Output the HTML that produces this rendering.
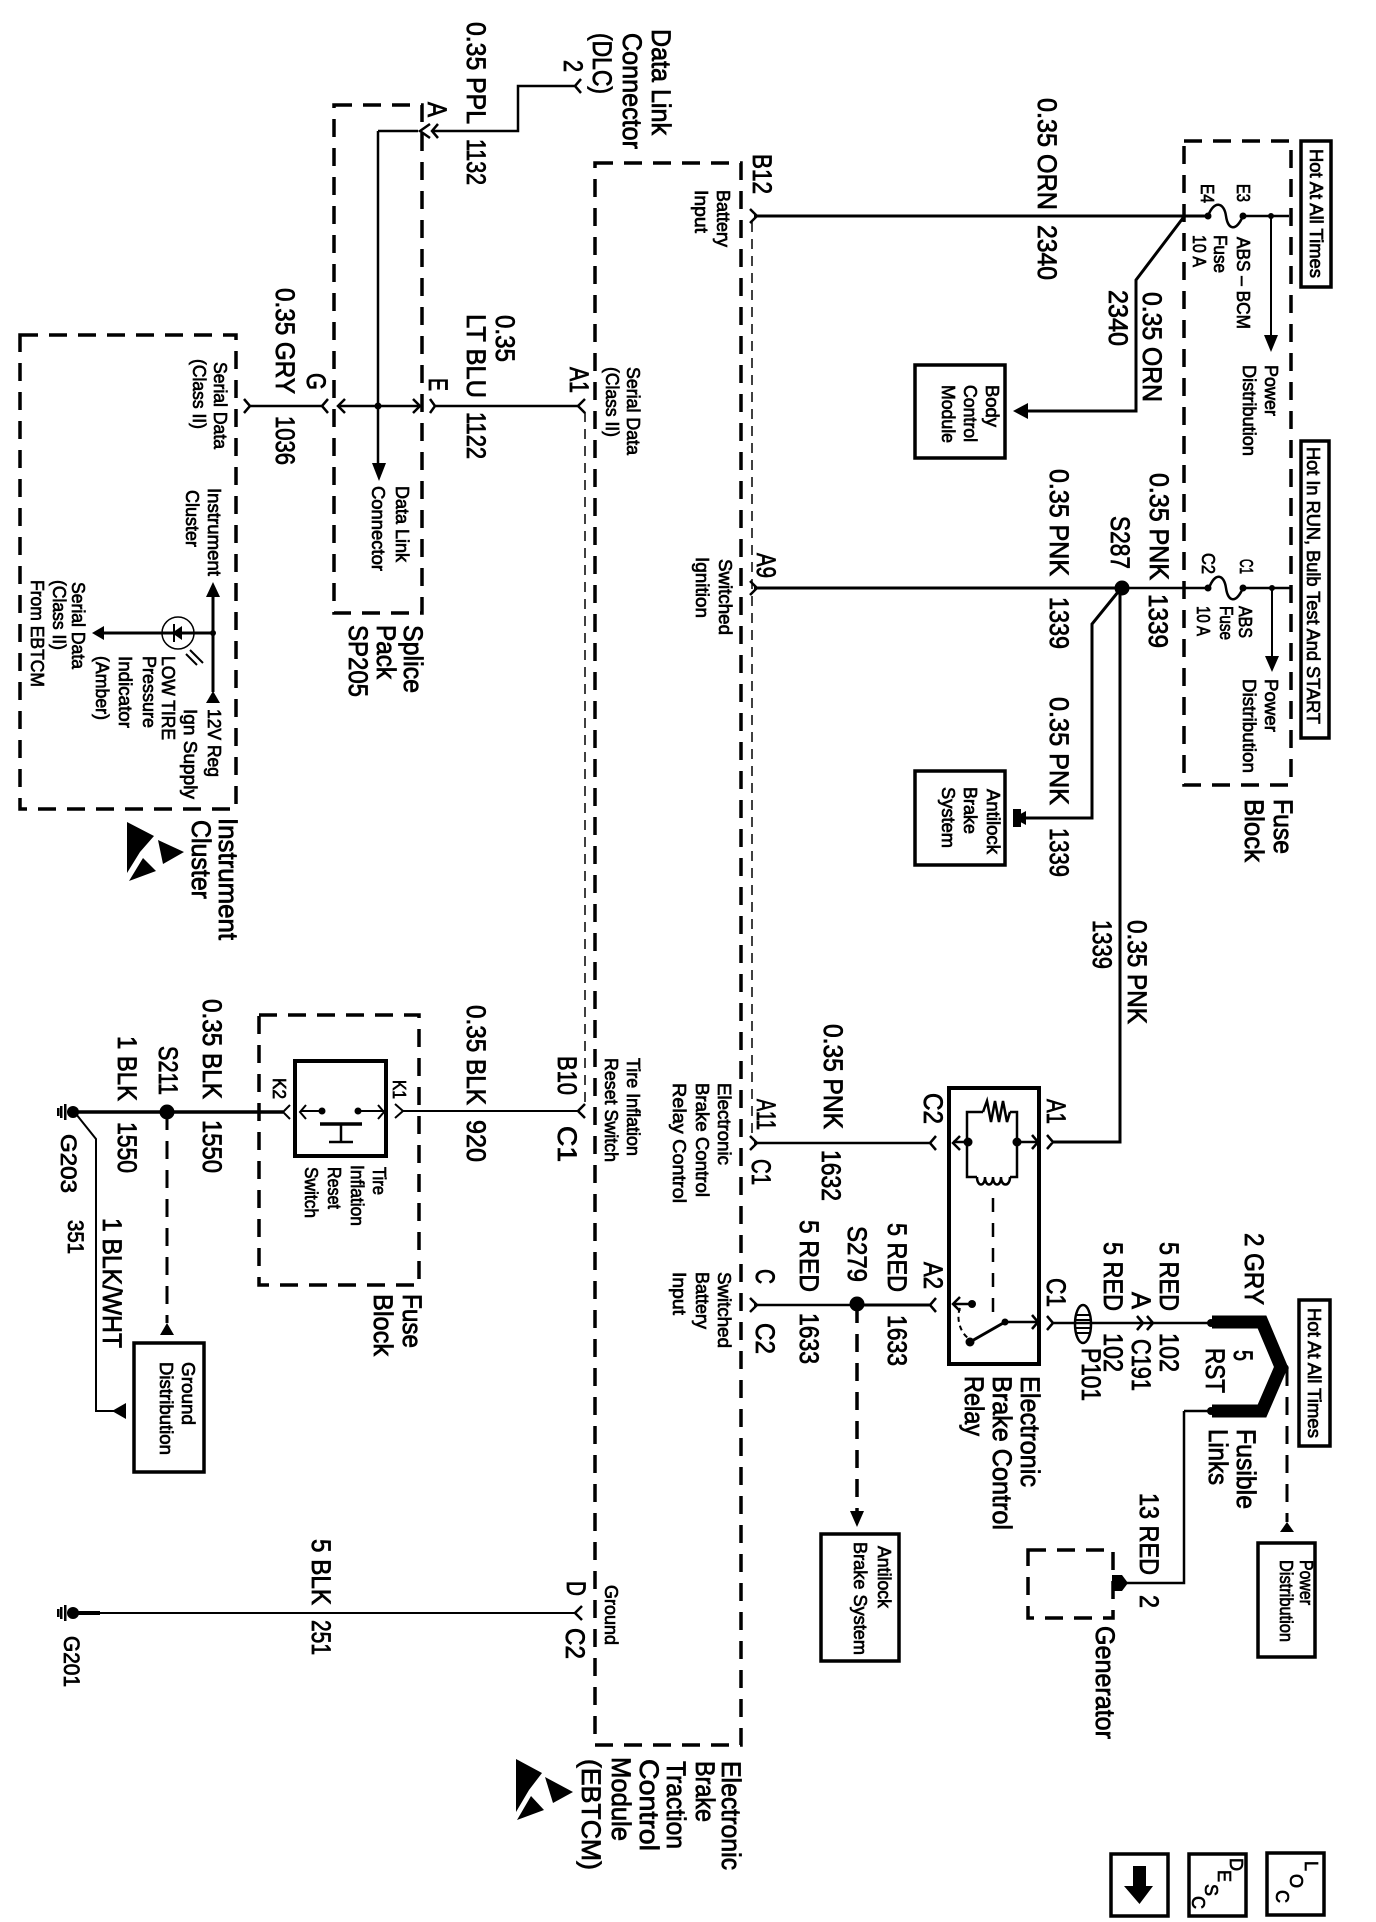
<!DOCTYPE html>
<html><head><meta charset="utf-8"><style>
html,body{margin:0;padding:0;background:#fff}
svg{display:block}
text{font-family:"Liberation Sans",sans-serif;fill:#000}
.b{font-size:27px;stroke:#000;stroke-width:.8px}
.s{font-size:18px;stroke:#000;stroke-width:.7px}
.w{fill:none;stroke:#000;stroke-linejoin:miter}
.d{fill:none;stroke:#000;stroke-width:3.5;stroke-dasharray:18 11}
.t{fill:none;stroke:#000;stroke-width:1.5;stroke-dasharray:10 7}
.bx{fill:none;stroke:#000;stroke-width:3.5}
.k{fill:#000;stroke:none}
</style></head><body>
<svg width="1376" height="1922" viewBox="0 0 1376 1922" xmlns="http://www.w3.org/2000/svg">
<rect width="1376" height="1922" fill="#fff"/>

<!-- dashed containers -->
<rect class="d" x="334" y="105" width="88" height="508"/>
<rect class="d" x="20" y="335" width="216" height="474"/>
<rect class="d" x="595" y="163" width="146" height="1582"/>
<rect class="d" x="1184" y="141" width="107" height="644"/>
<rect class="d" x="259" y="1015" width="160" height="270"/>
<rect class="d" x="1028" y="1550" width="85" height="68"/>
<path class="t" d="M752 222V1138"/>
<path class="t" d="M585 412V1105"/>

<!-- solid boxes -->
<rect class="bx" x="1301" y="141" width="30" height="146"/>
<rect class="bx" x="1301" y="441" width="28" height="297"/>
<rect class="bx" x="1299" y="1300" width="31" height="146"/>
<rect class="bx" x="915" y="365" width="90" height="93"/>
<rect class="bx" x="915" y="771" width="90" height="94"/>
<rect class="bx" x="821" y="1534" width="78" height="127"/>
<rect class="bx" x="1258" y="1543" width="57" height="114"/>
<rect class="bx" x="134" y="1343" width="70" height="129"/>
<rect class="w" style="stroke-width:4" x="949" y="1088" width="90" height="276"/>
<rect class="w" style="stroke-width:4" x="295" y="1061" width="91" height="95"/>
<rect class="bx" x="1267" y="1853" width="57" height="62"/>
<rect class="bx" x="1189" y="1854" width="57" height="62"/>
<rect class="bx" x="1111" y="1854" width="57" height="62"/>
<path class="k" d="M1133 1866H1146V1886H1153L1139.500 1904L1124 1886H1133Z"/>

<!-- wires -->
<g class="w" stroke-width="2.500">
<path d="M575 86H518V131H432"/>
<path d="M378 131V465" stroke-width="2.500"/>
<path d="M378 131H418M340 406H418"/>
<path d="M250 406H322" />
<path d="M435 406H578"/>
<path d="M754 216H1208" stroke-width="3"/>
<path d="M1243 216H1289"/>
<path d="M1208 216C1214 200 1224 202 1226 216S1236 232 1243 216"/>
<path d="M1271 216V338" stroke-width="2"/>
<path d="M1183 218L1136 280V411H1026" stroke-width="3"/>
<path d="M754 588H1122" stroke-width="3"/>
<path d="M1122 588H1209M1243 588H1291"/>
<path d="M1209 588C1215 572 1224 574 1226 588S1236 604 1243 588"/>
<path d="M1272 588V658" stroke-width="2"/>
<path d="M1118 592L1092 624V818H1020" stroke-width="3"/>
<path d="M1120 590V1142H1053" stroke-width="3"/>
<path d="M754 1143H930"/>
<path d="M754 1305H857"/>
<path d="M857 1305H930" stroke-width="3"/>
<path d="M1053 1323H1212"/>
<path d="M1184 1411H1212M1184 1411V1583H1125"/>
<path d="M72 1112H283" stroke-width="3.500"/>
<path d="M76 1114L96 1139V1411H114" stroke-width="2"/>
<path d="M403 1111H578" stroke-width="2"/>
<path d="M72 1613H100" stroke-width="4"/>
<path d="M72 1613H575" stroke-width="2"/>
<path d="M213 597V692M213 633H100" stroke-width="3"/>
<!-- chevrons -->
<path stroke-width="2.500" d="M581 79L575 86L581 93M438 124L432 131L438 138M430 124L420 131L430 138"/>
<path stroke-width="2.500" d="M328 399L322 406L328 413M345 399L338 406L345 413M413 399L420 406L413 413M430 399L435 406L430 413"/>
<path stroke-width="2.500" d="M244 399L250 406L244 413M585 399L578 406L585 413M585 1104L578 1111L585 1118M582 1606L575 1613L582 1620"/>
<path stroke-width="2.500" d="M750 209L757 216L750 223M750 581L757 588L750 595M750 1136L757 1143L750 1150M750 1298L757 1305L750 1312"/>
<path stroke-width="2.500" d="M936 1136L930 1143L936 1150M936 1298L930 1305L936 1312"/>
<path stroke-width="2.500" d="M960 1136L953 1143L960 1150M1032 1135L1038 1142L1032 1149M1047 1135L1053 1142L1047 1149M960 1297L953 1304L960 1311M1032 1315L1038 1322L1032 1329M1047 1316L1053 1323L1047 1330M1137 1316L1143 1323L1137 1330M1147 1316L1153 1323L1147 1330"/>
<path stroke-width="2" d="M395 1104L403 1111L395 1118M290 1105L283 1112L290 1119"/>
<path stroke-width="2" d="M306 1105L300 1112L306 1119M378 1105L384 1112L378 1119M301 1111H322M358 1111H384"/>
<!-- relay internals -->
<path stroke-width="2.500" d="M983 1112H967V1177H977M1010 1177H1017V1112H1010"/>
<path stroke-width="2.500" d="M983 1112L987 1101L991 1122L995 1101L999 1122L1003 1101L1007 1122L1010 1112"/>
<path stroke-width="2.500" d="M977 1177C977 1187 985 1187 985 1177C985 1187 993 1187 993 1177C993 1187 1001 1187 1001 1177C1001 1187 1010 1187 1010 1177"/>
<path stroke-width="2.500" d="M953 1142H968M1017 1142H1038M953 1304H972M1005 1322H1038"/>
<path stroke-width="3" d="M970 1342L1005 1322"/>
<path stroke-width="2.500" stroke-dasharray="14 11" d="M993 1198V1318"/>
<path stroke-width="2" stroke-dasharray="5 4" d="M960 1308C956 1318 960 1332 968 1338"/>
<!-- tire switch internals -->
<path stroke-width="3.500" d="M320 1124H362"/>
<path stroke-width="2.500" d="M341 1124V1142M329 1142H353"/>
<!-- dashed leads -->
<path stroke-width="3.500" stroke-dasharray="18 11" d="M857 1305V1512"/>
<path stroke-width="3" stroke-dasharray="18 11" d="M1287 1368V1522"/>
<path stroke-width="3" stroke-dasharray="18 11" d="M167 1112V1323"/>
<!-- fusible -->
<path stroke-width="13" d="M1212 1322H1262L1281 1367L1262 1411H1212"/>
<!-- P101 -->
<ellipse cx="1083" cy="1324" rx="8" ry="19" stroke-width="2.500"/>
<path stroke-width="2" d="M1076 1315H1091M1076 1320H1091M1076 1328H1091M1076 1333H1091"/>
<circle cx="1285" cy="1368" r="3" stroke-width="1.500"/>
<!-- lamp -->
<circle cx="178" cy="633" r="16" stroke-width="1.500"/>
<path stroke-width="2" d="M174 624V642M190 650L203 663M186 654L197 665"/>
</g>

<!-- arrowheads and dots -->
<g class="k">
<path d="M372 463H386L379 481Z"/>
<path d="M1264 335H1278L1271 352Z"/>
<path d="M1265 656H1279L1272 672Z"/>
<path d="M1013 411L1028 403V419Z"/>
<path d="M1013 809H1021V827H1013Z"/><path d="M1013 818L1026 811V825Z"/>
<path d="M850 1511H864L857 1527Z"/>
<path d="M1287 1522L1294 1532H1280Z"/>
<path d="M167 1323L174 1335H160Z"/>
<path d="M112 1411L126 1403V1419Z"/>
<path d="M213 582L220 597H206Z"/>
<path d="M213 691L220 703H206Z"/>
<path d="M92 633L104 626V640Z"/>
<path d="M172 633L182 626V640Z"/>
<path d="M1112 1575H1122L1128 1583L1122 1591H1112Z"/>
<circle cx="378" cy="406" r="3.500"/>
<circle cx="1122" cy="588" r="7.500"/>
<circle cx="857" cy="1304" r="7.500"/>
<circle cx="167" cy="1112" r="7.500"/>
<circle cx="1208" cy="216" r="3.500"/><circle cx="1243" cy="216" r="3.500"/>
<circle cx="1208" cy="588" r="3.500"/><circle cx="1243" cy="588" r="3.500"/>
<circle cx="1271" cy="216" r="3"/><circle cx="1272" cy="588" r="3"/>
<circle cx="968" cy="1142" r="4.500"/><circle cx="1017" cy="1142" r="4.500"/>
<circle cx="972" cy="1304" r="4"/><circle cx="970" cy="1342" r="4.500"/><circle cx="1005" cy="1322" r="3.500"/>
<circle cx="322" cy="1111" r="3.500"/><circle cx="358" cy="1111" r="3.500"/>
<circle cx="213" cy="633" r="3"/>
<circle cx="1211" cy="1323" r="4"/><circle cx="1211" cy="1411" r="4"/>
<!-- grounds -->
<circle cx="73" cy="1112" r="6"/><circle cx="73" cy="1613" r="6"/>
<rect x="64" y="1104" width="2.500" height="16"/><rect x="60" y="1106" width="2.500" height="12"/><rect x="57" y="1108" width="2.500" height="8"/>
<rect x="64" y="1605" width="2.500" height="16"/><rect x="60" y="1607" width="2.500" height="12"/><rect x="57" y="1609" width="2.500" height="8"/>
<!-- ESD icons -->
<path d="M127 822L154 836L140 852L127 873Z"/><path d="M129 881L143 858L156 871Z"/><path d="M158 840L184 852L163 864Z"/>
<path d="M516 1759L542 1773L529 1790L516 1812Z"/><path d="M517 1820L531 1796L544 1810Z"/><path d="M545 1777L573 1792L553 1803Z"/>
</g>

<!-- big labels -->
<g class="b">
<text transform="translate(652 29) rotate(90)" textLength="106" lengthAdjust="spacingAndGlyphs">Data Link</text>
<text transform="translate(623 33) rotate(90)" textLength="116" lengthAdjust="spacingAndGlyphs">Connector</text>
<text transform="translate(593 33) rotate(90)" textLength="61" lengthAdjust="spacingAndGlyphs">(DLC)</text>
<text transform="translate(564 60) rotate(90)" textLength="12" lengthAdjust="spacingAndGlyphs">2</text>
<text transform="translate(428 102) rotate(90)" textLength="15" lengthAdjust="spacingAndGlyphs">A</text>
<text transform="translate(467 22) rotate(90)" textLength="102" lengthAdjust="spacingAndGlyphs">0.35 PPL</text>
<text transform="translate(467 139) rotate(90)" textLength="46" lengthAdjust="spacingAndGlyphs">1132</text>
<text transform="translate(276 288) rotate(90)" textLength="106" lengthAdjust="spacingAndGlyphs">0.35 GRY</text>
<text transform="translate(276 416) rotate(90)" textLength="49" lengthAdjust="spacingAndGlyphs">1036</text>
<text transform="translate(307 373) rotate(90)" textLength="17" lengthAdjust="spacingAndGlyphs">G</text>
<text transform="translate(429 378) rotate(90)" textLength="13" lengthAdjust="spacingAndGlyphs">E</text>
<text transform="translate(496 315) rotate(90)" textLength="47" lengthAdjust="spacingAndGlyphs">0.35</text>
<text transform="translate(467 314) rotate(90)" textLength="84" lengthAdjust="spacingAndGlyphs">LT BLU</text>
<text transform="translate(467 412) rotate(90)" textLength="47" lengthAdjust="spacingAndGlyphs">1122</text>
<text transform="translate(570 367) rotate(90)" textLength="26" lengthAdjust="spacingAndGlyphs">A1</text>
<text transform="translate(219 818) rotate(90)" textLength="122" lengthAdjust="spacingAndGlyphs">Instrument</text>
<text transform="translate(192 820) rotate(90)" textLength="79" lengthAdjust="spacingAndGlyphs">Cluster</text>
<text transform="translate(404 625) rotate(90)" textLength="68" lengthAdjust="spacingAndGlyphs">Splice</text>
<text transform="translate(377 625) rotate(90)" textLength="54" lengthAdjust="spacingAndGlyphs">Pack</text>
<text transform="translate(349 625) rotate(90)" textLength="72" lengthAdjust="spacingAndGlyphs">SP205</text>
<text transform="translate(203 999) rotate(90)" textLength="100" lengthAdjust="spacingAndGlyphs">0.35 BLK</text>
<text transform="translate(203 1120) rotate(90)" textLength="53" lengthAdjust="spacingAndGlyphs">1550</text>
<text transform="translate(118 1036) rotate(90)" textLength="65" lengthAdjust="spacingAndGlyphs">1 BLK</text>
<text transform="translate(118 1122) rotate(90)" textLength="51" lengthAdjust="spacingAndGlyphs">1550</text>
<text transform="translate(159 1046) rotate(90)" textLength="49" lengthAdjust="spacingAndGlyphs">S211</text>
<text style="font-size:22px" transform="translate(61 1134) rotate(90)" textLength="59" lengthAdjust="spacingAndGlyphs">G203</text>
<text style="font-size:22px" transform="translate(68 1220) rotate(90)" textLength="34" lengthAdjust="spacingAndGlyphs">351</text>
<text transform="translate(103 1218) rotate(90)" textLength="130" lengthAdjust="spacingAndGlyphs">1 BLK/WHT</text>
<text transform="translate(467 1005) rotate(90)" textLength="100" lengthAdjust="spacingAndGlyphs">0.35 BLK</text>
<text transform="translate(467 1120) rotate(90)" textLength="42" lengthAdjust="spacingAndGlyphs">920</text>
<text transform="translate(558 1056) rotate(90)" textLength="39" lengthAdjust="spacingAndGlyphs">B10</text>
<text transform="translate(558 1126) rotate(90)" textLength="36" lengthAdjust="spacingAndGlyphs">C1</text>
<text transform="translate(403 1294) rotate(90)" textLength="54" lengthAdjust="spacingAndGlyphs">Fuse</text>
<text transform="translate(374 1294) rotate(90)" textLength="62" lengthAdjust="spacingAndGlyphs">Block</text>
<text transform="translate(567 1581) rotate(90)" textLength="15" lengthAdjust="spacingAndGlyphs">D</text>
<text transform="translate(566 1628) rotate(90)" textLength="31" lengthAdjust="spacingAndGlyphs">C2</text>
<text transform="translate(312 1539) rotate(90)" textLength="66" lengthAdjust="spacingAndGlyphs">5 BLK</text>
<text transform="translate(312 1620) rotate(90)" textLength="35" lengthAdjust="spacingAndGlyphs">251</text>
<text style="font-size:22px" transform="translate(64 1636) rotate(90)" textLength="51" lengthAdjust="spacingAndGlyphs">G201</text>
<text transform="translate(722 1761) rotate(90)" textLength="109" lengthAdjust="spacingAndGlyphs">Electronic</text>
<text transform="translate(696 1761) rotate(90)" textLength="61" lengthAdjust="spacingAndGlyphs">Brake</text>
<text transform="translate(667 1761) rotate(90)" textLength="88" lengthAdjust="spacingAndGlyphs">Traction</text>
<text transform="translate(640 1759) rotate(90)" textLength="92" lengthAdjust="spacingAndGlyphs">Control</text>
<text transform="translate(612 1757) rotate(90)" textLength="84" lengthAdjust="spacingAndGlyphs">Module</text>
<text transform="translate(582 1759) rotate(90)" textLength="111" lengthAdjust="spacingAndGlyphs">(EBTCM)</text>
<text transform="translate(1038 98) rotate(90)" textLength="112" lengthAdjust="spacingAndGlyphs">0.35 ORN</text>
<text transform="translate(1038 225) rotate(90)" textLength="55" lengthAdjust="spacingAndGlyphs">2340</text>
<text transform="translate(753 154) rotate(90)" textLength="40" lengthAdjust="spacingAndGlyphs">B12</text>
<text transform="translate(1143 292) rotate(90)" textLength="110" lengthAdjust="spacingAndGlyphs">0.35 ORN</text>
<text transform="translate(1109 290) rotate(90)" textLength="56" lengthAdjust="spacingAndGlyphs">2340</text>
<text transform="translate(1050 469) rotate(90)" textLength="107" lengthAdjust="spacingAndGlyphs">0.35 PNK</text>
<text transform="translate(1150 473) rotate(90)" textLength="107" lengthAdjust="spacingAndGlyphs">0.35 PNK</text>
<text transform="translate(1111 516) rotate(90)" textLength="53" lengthAdjust="spacingAndGlyphs">S287</text>
<text transform="translate(1050 597) rotate(90)" textLength="52" lengthAdjust="spacingAndGlyphs">1339</text>
<text transform="translate(1149 594) rotate(90)" textLength="54" lengthAdjust="spacingAndGlyphs">1339</text>
<text transform="translate(757 553) rotate(90)" textLength="25" lengthAdjust="spacingAndGlyphs">A9</text>
<text transform="translate(1274 799) rotate(90)" textLength="55" lengthAdjust="spacingAndGlyphs">Fuse</text>
<text transform="translate(1245 799) rotate(90)" textLength="63" lengthAdjust="spacingAndGlyphs">Block</text>
<text transform="translate(1050 697) rotate(90)" textLength="108" lengthAdjust="spacingAndGlyphs">0.35 PNK</text>
<text transform="translate(1050 828) rotate(90)" textLength="49" lengthAdjust="spacingAndGlyphs">1339</text>
<text transform="translate(1128 920) rotate(90)" textLength="104" lengthAdjust="spacingAndGlyphs">0.35 PNK</text>
<text transform="translate(1093 920) rotate(90)" textLength="49" lengthAdjust="spacingAndGlyphs">1339</text>
<text transform="translate(824 1024) rotate(90)" textLength="105" lengthAdjust="spacingAndGlyphs">0.35 PNK</text>
<text transform="translate(822 1150) rotate(90)" textLength="51" lengthAdjust="spacingAndGlyphs">1632</text>
<text transform="translate(757 1099) rotate(90)" textLength="31" lengthAdjust="spacingAndGlyphs">A11</text>
<text transform="translate(752 1159) rotate(90)" textLength="26" lengthAdjust="spacingAndGlyphs">C1</text>
<text transform="translate(924 1093) rotate(90)" textLength="31" lengthAdjust="spacingAndGlyphs">C2</text>
<text transform="translate(1047 1099) rotate(90)" textLength="25" lengthAdjust="spacingAndGlyphs">A1</text>
<text transform="translate(800 1220) rotate(90)" textLength="72" lengthAdjust="spacingAndGlyphs">5 RED</text>
<text transform="translate(848 1226) rotate(90)" textLength="56" lengthAdjust="spacingAndGlyphs">S279</text>
<text transform="translate(888 1223) rotate(90)" textLength="69" lengthAdjust="spacingAndGlyphs">5 RED</text>
<text transform="translate(924 1262) rotate(90)" textLength="27" lengthAdjust="spacingAndGlyphs">A2</text>
<text transform="translate(1104 1242) rotate(90)" textLength="69" lengthAdjust="spacingAndGlyphs">5 RED</text>
<text transform="translate(1160 1242) rotate(90)" textLength="69" lengthAdjust="spacingAndGlyphs">5 RED</text>
<text transform="translate(1132 1292) rotate(90)" textLength="17" lengthAdjust="spacingAndGlyphs">A</text>
<text transform="translate(1245 1233) rotate(90)" textLength="72" lengthAdjust="spacingAndGlyphs">2 GRY</text>
<text transform="translate(756 1323) rotate(90)" textLength="31" lengthAdjust="spacingAndGlyphs">C2</text>
<text transform="translate(756 1269) rotate(90)" textLength="15" lengthAdjust="spacingAndGlyphs">C</text>
<text transform="translate(800 1313) rotate(90)" textLength="51" lengthAdjust="spacingAndGlyphs">1633</text>
<text transform="translate(888 1315) rotate(90)" textLength="51" lengthAdjust="spacingAndGlyphs">1633</text>
<text transform="translate(1047 1278) rotate(90)" textLength="29" lengthAdjust="spacingAndGlyphs">C1</text>
<text transform="translate(1082 1348) rotate(90)" textLength="53" lengthAdjust="spacingAndGlyphs">P101</text>
<text transform="translate(1104 1333) rotate(90)" textLength="39" lengthAdjust="spacingAndGlyphs">102</text>
<text transform="translate(1160 1333) rotate(90)" textLength="39" lengthAdjust="spacingAndGlyphs">102</text>
<text transform="translate(1132 1339) rotate(90)" textLength="52" lengthAdjust="spacingAndGlyphs">C191</text>
<text transform="translate(1206 1348) rotate(90)" textLength="45" lengthAdjust="spacingAndGlyphs">RST</text>
<text transform="translate(1234 1350) rotate(90)" textLength="11" lengthAdjust="spacingAndGlyphs">5</text>
<text transform="translate(1237 1429) rotate(90)" textLength="80" lengthAdjust="spacingAndGlyphs">Fusible</text>
<text transform="translate(1209 1429) rotate(90)" textLength="56" lengthAdjust="spacingAndGlyphs">Links</text>
<text transform="translate(1140 1493) rotate(90)" textLength="82" lengthAdjust="spacingAndGlyphs">13 RED</text>
<text transform="translate(1140 1595) rotate(90)" textLength="13" lengthAdjust="spacingAndGlyphs">2</text>
<text transform="translate(1096 1626) rotate(90)" textLength="113" lengthAdjust="spacingAndGlyphs">Generator</text>
<text transform="translate(1021 1376) rotate(90)" textLength="111" lengthAdjust="spacingAndGlyphs">Electronic</text>
<text transform="translate(993 1376) rotate(90)" textLength="154" lengthAdjust="spacingAndGlyphs">Brake Control</text>
<text transform="translate(965 1376) rotate(90)" textLength="60" lengthAdjust="spacingAndGlyphs">Relay</text>
</g>

<!-- small labels -->
<g class="s">
<text transform="translate(627 367) rotate(90)" textLength="88" lengthAdjust="spacingAndGlyphs">Serial Data</text>
<text transform="translate(606 367) rotate(90)" textLength="70" lengthAdjust="spacingAndGlyphs">(Class II)</text>
<text transform="translate(214 362) rotate(90)" textLength="87" lengthAdjust="spacingAndGlyphs">Serial Data</text>
<text transform="translate(193 359) rotate(90)" textLength="70" lengthAdjust="spacingAndGlyphs">(Class II)</text>
<text transform="translate(396 486) rotate(90)" textLength="76" lengthAdjust="spacingAndGlyphs">Data Link</text>
<text transform="translate(372 486) rotate(90)" textLength="85" lengthAdjust="spacingAndGlyphs">Connector</text>
<text transform="translate(208 488) rotate(90)" textLength="88" lengthAdjust="spacingAndGlyphs">Instrument</text>
<text transform="translate(186 490) rotate(90)" textLength="57" lengthAdjust="spacingAndGlyphs">Cluster</text>
<text transform="translate(72 582) rotate(90)" textLength="87" lengthAdjust="spacingAndGlyphs">Serial Data</text>
<text transform="translate(53 580) rotate(90)" textLength="70" lengthAdjust="spacingAndGlyphs">(Class II)</text>
<text transform="translate(31 580) rotate(90)" textLength="107" lengthAdjust="spacingAndGlyphs">From EBTCM</text>
<text transform="translate(162 656) rotate(90)" textLength="84" lengthAdjust="spacingAndGlyphs">LOW TIRE</text>
<text transform="translate(143 656) rotate(90)" textLength="72" lengthAdjust="spacingAndGlyphs">Pressure</text>
<text transform="translate(119 656) rotate(90)" textLength="72" lengthAdjust="spacingAndGlyphs">Indicator</text>
<text transform="translate(96 656) rotate(90)" textLength="64" lengthAdjust="spacingAndGlyphs">(Amber)</text>
<text transform="translate(208 709) rotate(90)" textLength="68" lengthAdjust="spacingAndGlyphs">12V Reg</text>
<text transform="translate(184 709) rotate(90)" textLength="90" lengthAdjust="spacingAndGlyphs">Ign Supply</text>
<text transform="translate(627 1058) rotate(90)" textLength="98" lengthAdjust="spacingAndGlyphs">Tire Inflation</text>
<text transform="translate(605 1058) rotate(90)" textLength="104" lengthAdjust="spacingAndGlyphs">Reset Switch</text>
<text transform="translate(373 1167) rotate(90)" textLength="28" lengthAdjust="spacingAndGlyphs">Tire</text>
<text transform="translate(351 1165) rotate(90)" textLength="61" lengthAdjust="spacingAndGlyphs">Inflation</text>
<text transform="translate(328 1167) rotate(90)" textLength="42" lengthAdjust="spacingAndGlyphs">Reset</text>
<text transform="translate(305 1167) rotate(90)" textLength="51" lengthAdjust="spacingAndGlyphs">Switch</text>
<text transform="translate(393 1080) rotate(90)" textLength="19" lengthAdjust="spacingAndGlyphs">K1</text>
<text transform="translate(273 1078) rotate(90)" textLength="21" lengthAdjust="spacingAndGlyphs">K2</text>
<text transform="translate(182 1362) rotate(90)" textLength="63" lengthAdjust="spacingAndGlyphs">Ground</text>
<text transform="translate(160 1362) rotate(90)" textLength="93" lengthAdjust="spacingAndGlyphs">Distribution</text>
<text transform="translate(605 1585) rotate(90)" textLength="60" lengthAdjust="spacingAndGlyphs">Ground</text>
<text transform="translate(717 190) rotate(90)" textLength="57" lengthAdjust="spacingAndGlyphs">Battery</text>
<text transform="translate(695 190) rotate(90)" textLength="43" lengthAdjust="spacingAndGlyphs">Input</text>
<text transform="translate(1310 149) rotate(90)" textLength="129" lengthAdjust="spacingAndGlyphs">Hot At All Times</text>
<text transform="translate(1237 184) rotate(90)" textLength="18" lengthAdjust="spacingAndGlyphs">E3</text>
<text transform="translate(1201 184) rotate(90)" textLength="19" lengthAdjust="spacingAndGlyphs">E4</text>
<text transform="translate(1237 237) rotate(90)" textLength="92" lengthAdjust="spacingAndGlyphs">ABS – BCM</text>
<text transform="translate(1214 235) rotate(90)" textLength="38" lengthAdjust="spacingAndGlyphs">Fuse</text>
<text transform="translate(1193 235) rotate(90)" textLength="32" lengthAdjust="spacingAndGlyphs">10 A</text>
<text transform="translate(1265 365) rotate(90)" textLength="51" lengthAdjust="spacingAndGlyphs">Power</text>
<text transform="translate(1243 365) rotate(90)" textLength="91" lengthAdjust="spacingAndGlyphs">Distribution</text>
<text transform="translate(986 385) rotate(90)" textLength="42" lengthAdjust="spacingAndGlyphs">Body</text>
<text transform="translate(964 385) rotate(90)" textLength="57" lengthAdjust="spacingAndGlyphs">Control</text>
<text transform="translate(942 385) rotate(90)" textLength="58" lengthAdjust="spacingAndGlyphs">Module</text>
<text transform="translate(1240 559) rotate(90)" textLength="15" lengthAdjust="spacingAndGlyphs">C1</text>
<text transform="translate(1202 553) rotate(90)" textLength="21" lengthAdjust="spacingAndGlyphs">C2</text>
<text transform="translate(1239 606) rotate(90)" textLength="32" lengthAdjust="spacingAndGlyphs">ABS</text>
<text transform="translate(1220 606) rotate(90)" textLength="34" lengthAdjust="spacingAndGlyphs">Fuse</text>
<text transform="translate(1197 606) rotate(90)" textLength="30" lengthAdjust="spacingAndGlyphs">10 A</text>
<text transform="translate(1307 447) rotate(90)" textLength="277" lengthAdjust="spacingAndGlyphs">Hot In RUN, Bulb Test And START</text>
<text transform="translate(719 559) rotate(90)" textLength="76" lengthAdjust="spacingAndGlyphs">Switched</text>
<text transform="translate(696 557) rotate(90)" textLength="61" lengthAdjust="spacingAndGlyphs">Ignition</text>
<text transform="translate(1265 679) rotate(90)" textLength="53" lengthAdjust="spacingAndGlyphs">Power</text>
<text transform="translate(1243 679) rotate(90)" textLength="94" lengthAdjust="spacingAndGlyphs">Distribution</text>
<text transform="translate(987 789) rotate(90)" textLength="65" lengthAdjust="spacingAndGlyphs">Antilock</text>
<text transform="translate(964 787) rotate(90)" textLength="47" lengthAdjust="spacingAndGlyphs">Brake</text>
<text transform="translate(942 787) rotate(90)" textLength="61" lengthAdjust="spacingAndGlyphs">System</text>
<text transform="translate(718 1083) rotate(90)" textLength="82" lengthAdjust="spacingAndGlyphs">Electronic</text>
<text transform="translate(696 1083) rotate(90)" textLength="114" lengthAdjust="spacingAndGlyphs">Brake Control</text>
<text transform="translate(673 1083) rotate(90)" textLength="120" lengthAdjust="spacingAndGlyphs">Relay Control</text>
<text transform="translate(718 1272) rotate(90)" textLength="76" lengthAdjust="spacingAndGlyphs">Switched</text>
<text transform="translate(696 1272) rotate(90)" textLength="57" lengthAdjust="spacingAndGlyphs">Battery</text>
<text transform="translate(673 1272) rotate(90)" textLength="43" lengthAdjust="spacingAndGlyphs">Input</text>
<text transform="translate(1308 1308) rotate(90)" textLength="130" lengthAdjust="spacingAndGlyphs">Hot At All Times</text>
<text transform="translate(878 1546) rotate(90)" textLength="62" lengthAdjust="spacingAndGlyphs">Antilock</text>
<text transform="translate(854 1542) rotate(90)" textLength="113" lengthAdjust="spacingAndGlyphs">Brake System</text>
<text transform="translate(1300 1560) rotate(90)" textLength="45" lengthAdjust="spacingAndGlyphs">Power</text>
<text transform="translate(1280 1560) rotate(90)" textLength="82" lengthAdjust="spacingAndGlyphs">Distribution</text>
<text transform="translate(1305 1861) rotate(90)">L</text>
<text transform="translate(1290 1874) rotate(90)">O</text>
<text transform="translate(1276 1890) rotate(90)">C</text>
<text transform="translate(1230 1858) rotate(90)">D</text>
<text transform="translate(1218 1870) rotate(90)">E</text>
<text transform="translate(1205 1884) rotate(90)">S</text>
<text transform="translate(1192 1896) rotate(90)">C</text>
</g>
</svg>
</body></html>
